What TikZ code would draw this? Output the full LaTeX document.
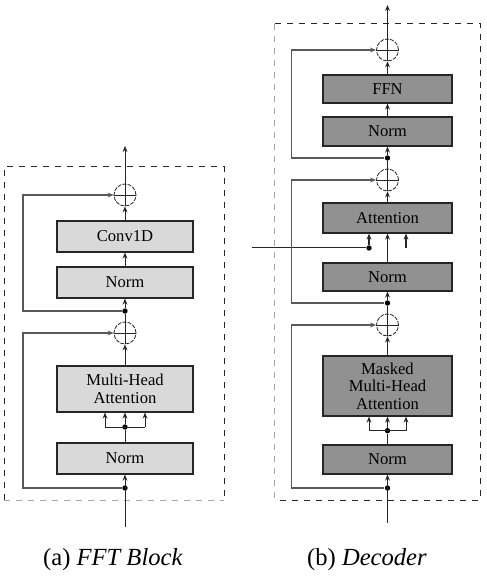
\documentclass[tikz,border=0pt]{standalone}
\usepackage{fontspec}
\setmainfont{Liberation Serif}
\usetikzlibrary{arrows.meta}
\begin{document}
\begin{tikzpicture}[x=0.5pt,y=-0.5pt,
 lbox/.style={draw=black!85, fill=black!15, line width=0.6pt, inner sep=0pt, minimum width=68pt, font=\fontsize{8.3}{8.8}\selectfont, align=center},
 dbox/.style={lbox, fill=black!43, minimum width=64.5pt},
 ln/.style={draw=black!85, line width=0.5pt},
 skipln/.style={draw=black!65, line width=0.7pt, -{Stealth[length=3pt,width=2.4pt]}},
 arr/.style={ln, -{Stealth[length=3pt,width=2.4pt]}},
 jdot/.style={circle, fill=black, inner sep=0pt, minimum size=2.7pt},
 addc/.style={circle, draw=black!85, dash pattern=on 2pt off 0.6pt, line width=0.4pt, minimum size=11pt, inner sep=0pt},
 frame/.style={draw=black!85, dashed, line width=0.5pt},
 captext/.style={font=\fontsize{12.3}{14}\selectfont}]
\useasboundingbox (0,0) rectangle (486,582);

% ---------------- (a) FFT Block ----------------
\draw[frame] (4,500) -- (4,167) -- (224,167) -- (224,500);
\draw[frame, draw=black!35] (4,500) -- (224,500);

\node[lbox, minimum height=15.5pt] (lconv) at (125,236.5) {Conv1D};
\node[lbox, minimum height=15.5pt] (lnorm1) at (125,282.5) {Norm};
\node[lbox, minimum height=23pt] (lmha) at (125,389) {Multi-Head\\Attention};
\node[lbox, minimum height=15.5pt] (lnorm2) at (125,458.5) {Norm};
\node[addc] (lc2) at (125,195) {};
\node[addc] (lc1) at (125,333) {};
\draw[ln, line width=0.4pt] (lc2.north) -- (lc2.south) (lc2.west) -- (lc2.east);
\draw[ln, line width=0.4pt] (lc1.north) -- (lc1.south) (lc1.west) -- (lc1.east);

\coordinate (lin) at (125,527);
\coordinate (lout) at (125,146);
\node[jdot] (lj1) at (125,488) {};
\node[jdot] (lj2) at (125,311) {};
\node[jdot] (ls) at (125,427) {};
\coordinate (lsl) at (105,427);
\coordinate (lsr) at (145,427);
\coordinate (lk1) at (23,333);
\coordinate (lk2) at (23,195);

\draw[arr] (lin) -- (lnorm2.south);
\draw[ln] (lnorm2.north) -- (ls);
\draw[arr] (ls) -- (lmha.south);
\draw[ln] (lsl) -- (lsr);
\draw[arr] (lsl) -- (lsl |- lmha.south);
\draw[arr] (lsr) -- (lsr |- lmha.south);
\draw[arr] (lmha.north) -- (lc1.south);
\draw[ln] (lc1.north) -- (lj2);
\draw[arr] (lj2) -- (lnorm1.south);
\draw[arr] (lnorm1.north) -- (lconv.south);
\draw[arr] (lconv.north) -- (lc2.south);
\draw[arr] (lc2.north) -- (lout);
\draw[skipln] (lj1) -| (lk1) -- (lc1.west);
\draw[skipln] (lj2) -| (lk2) -- (lc2.west);

\node[captext] (capa) at (113,560) {(a) \textit{FFT Block}};

% ---------------- (b) Decoder ----------------
\draw[frame] (274.7,24) -- (480.3,24) -- (480.3,500) -- (274.7,500);
\draw[frame, draw=black!35] (274.7,24) -- (274.7,500);

\node[dbox, minimum height=14pt] (rffn) at (387.5,89) {FFN};
\node[dbox, minimum height=14.5pt] (rnorm1) at (387.5,131.5) {Norm};
\node[dbox, minimum height=15pt] (ratt) at (387.5,218) {Attention};
\node[dbox, minimum height=14pt] (rnorm2) at (387.5,277) {Norm};
\node[dbox, minimum height=30pt] (rmha) at (387.5,386) {Masked\\Multi-Head\\Attention};
\node[dbox, minimum height=14.5pt] (rnorm3) at (387.5,459.5) {Norm};
\node[addc] (rc3) at (387.5,50) {};
\node[addc] (rc2) at (387.5,180) {};
\node[addc] (rc1) at (387.5,325) {};
\draw[ln, line width=0.4pt] (rc3.north) -- (rc3.south) (rc3.west) -- (rc3.east);
\draw[ln, line width=0.4pt] (rc2.north) -- (rc2.south) (rc2.west) -- (rc2.east);
\draw[ln, line width=0.4pt] (rc1.north) -- (rc1.south) (rc1.west) -- (rc1.east);

\coordinate (rin) at (387.5,523);
\coordinate (rout) at (387.5,5);
\node[jdot] (rj1) at (387.5,488) {};
\node[jdot] (rj2) at (387.5,303) {};
\node[jdot] (rj3) at (387.5,158) {};
\node[jdot] (rs) at (387.5,430.7) {};
\coordinate (rsl) at (369,430.7);
\coordinate (rsr) at (406,430.7);
\coordinate (rk1) at (291.3,325);
\coordinate (rk2) at (291.3,180);
\coordinate (rk3) at (291.3,50);
\coordinate (rext) at (252,248);
\node[jdot] (rja) at (369,248) {};
\coordinate (rfree) at (406,248);

\draw[arr] (rin) -- (rnorm3.south);
\draw[ln] (rnorm3.north) -- (rs);
\draw[arr] (rs) -- (rmha.south);
\draw[ln] (rsl) -- (rsr);
\draw[arr] (rsl) -- (rsl |- rmha.south);
\draw[arr] (rsr) -- (rsr |- rmha.south);
\draw[arr] (rmha.north) -- (rc1.south);
\draw[ln] (rc1.north) -- (rj2);
\draw[arr] (rj2) -- (rnorm2.south);
\draw[arr] (rnorm2.north) -- (ratt.south);
\draw[ln] (rext) -- (rja);
\draw[arr, line width=0.8pt] (rja) -- (rja |- ratt.south);
\draw[arr, line width=0.8pt] (rfree) -- (rfree |- ratt.south);
\draw[arr] (ratt.north) -- (rc2.south);
\draw[ln] (rc2.north) -- (rj3);
\draw[arr] (rj3) -- (rnorm1.south);
\draw[arr] (rnorm1.north) -- (rffn.south);
\draw[arr] (rffn.north) -- (rc3.south);
\draw[arr] (rc3.north) -- (rout);
\draw[skipln] (rj1) -| (rk1) -- (rc1.west);
\draw[skipln] (rj2) -| (rk2) -- (rc2.west);
\draw[skipln] (rj3) -| (rk3) -- (rc3.west);

\node[captext] (capb) at (367,560) {(b) \textit{Decoder}};
\end{tikzpicture}
\end{document}
